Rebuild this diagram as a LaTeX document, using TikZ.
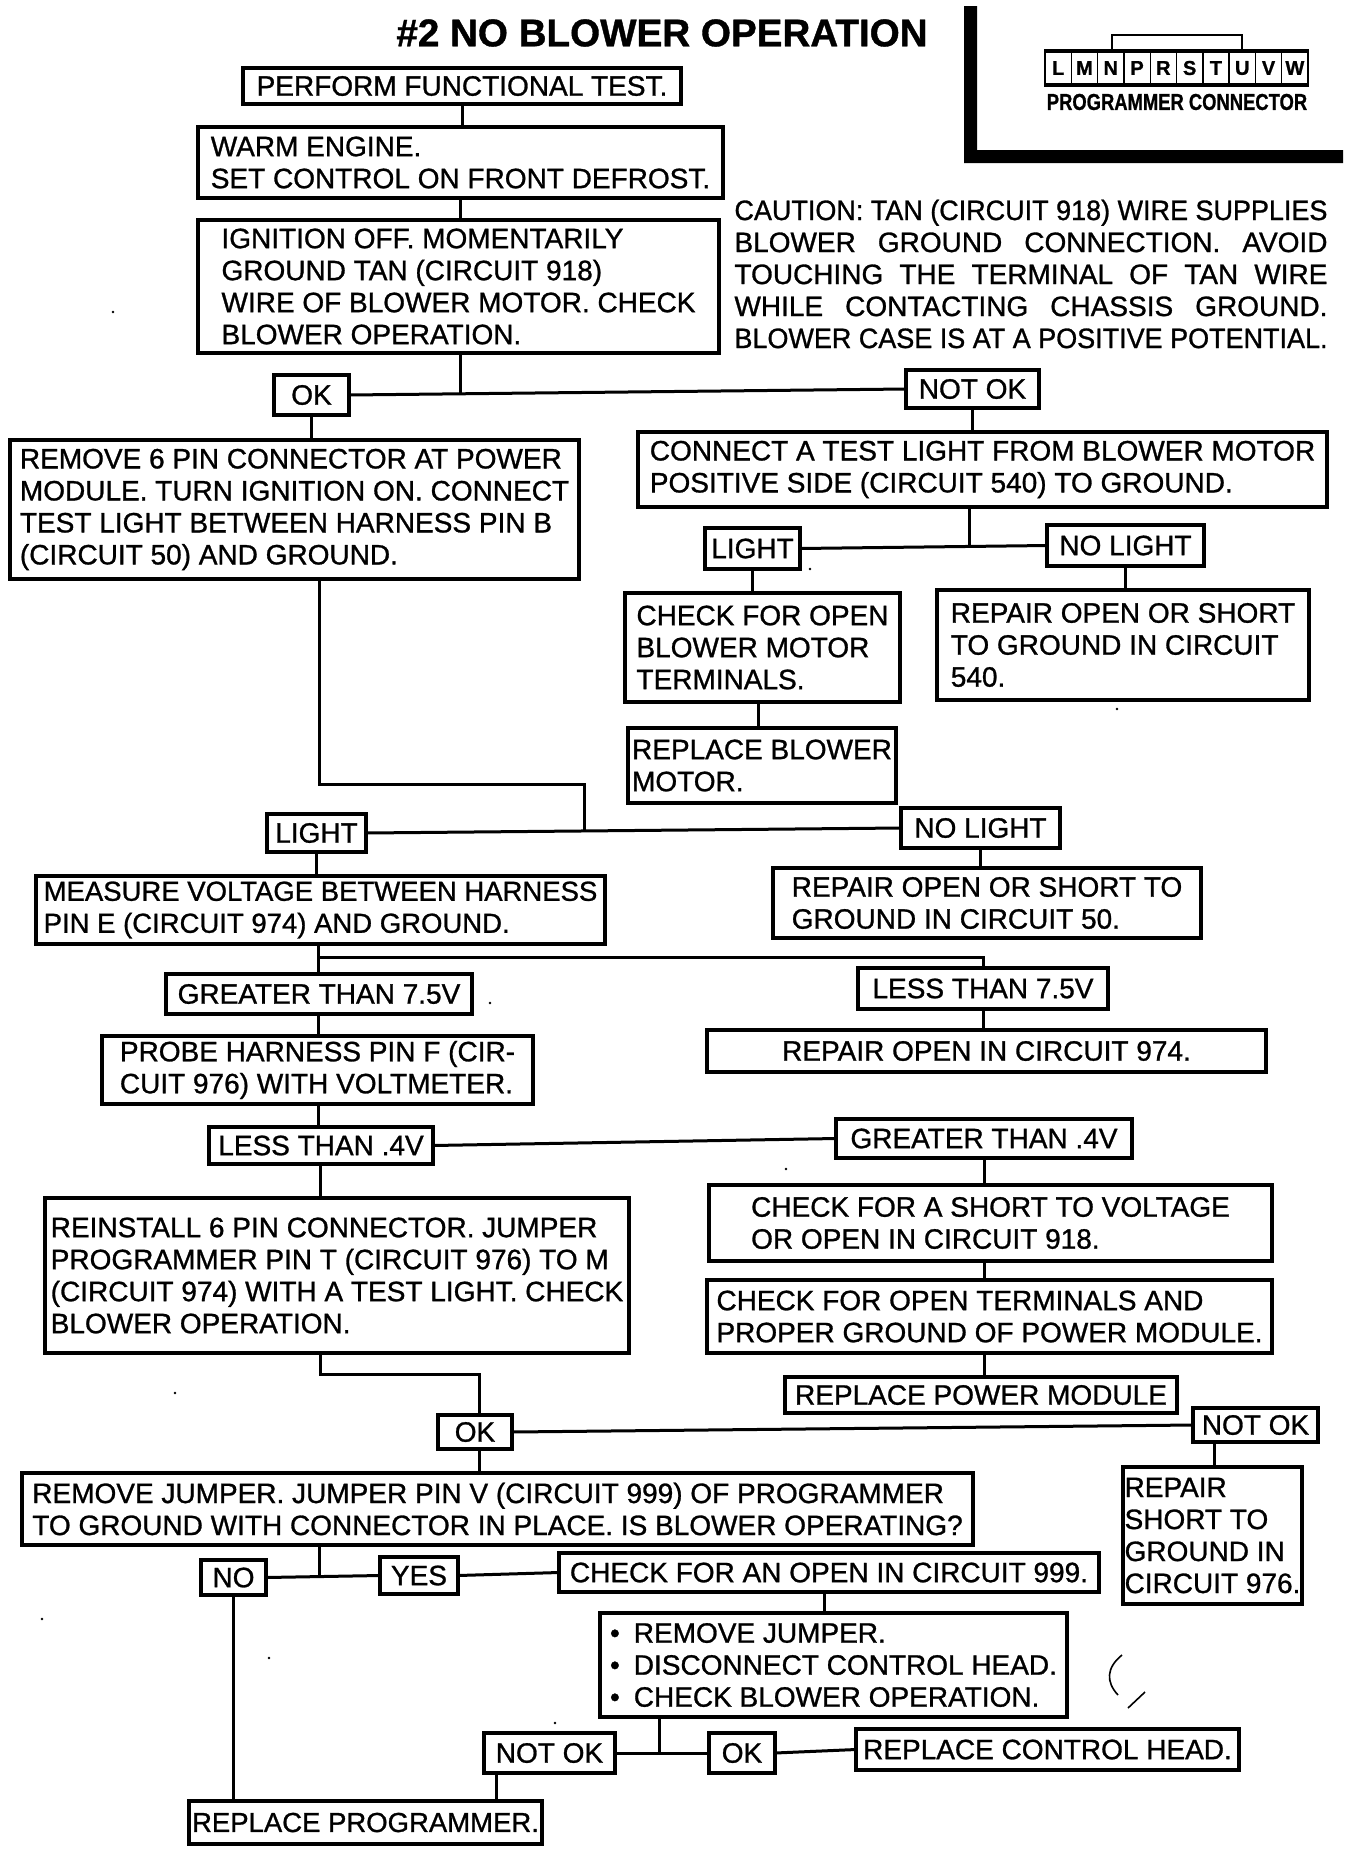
\documentclass[tikz,border=0pt]{standalone}
\usepackage{fontspec}
\setmainfont{Liberation Sans}[FakeBold=1]
\usetikzlibrary{calc}
\tikzset{
	flowbox/.style={draw,line width=3.2pt,outer sep=0pt,anchor=north west,inner sep=0pt,align=left,font=\fontsize{28}{32}\selectfont},
	snug/.style={font=\fontsize{27.5}{32}\selectfont},
	dims/.style 2 args={minimum width=#1pt,minimum height=#2pt},
	link/.style={line width=3pt},
	pinbox/.style={draw,line width=1.4pt,inner sep=0pt,minimum width=26.3pt,minimum height=32pt,font=\bfseries\fontsize{20}{20}\selectfont}
}
\newcommand{\spread}[1]{\makebox[593pt][s]{#1}}
\newcommand{\squeeze}[1]{\resizebox{593pt}{\height}{#1}}
\begin{document}
\begin{tikzpicture}[x=1pt,y=-1pt]
	\useasboundingbox (0,0) rectangle (1360,1858);
	\node[font=\bfseries\fontsize{38.6}{40}\selectfont] (title) at (662,33) {\#2 NO BLOWER OPERATION};
	\fill (964,6) -- (977,6) -- (977,150) -- (1343,150) -- (1343,163) -- (964,163) -- cycle;
	\node[draw,line width=2pt,outer sep=0pt,inner sep=0pt,minimum width=263pt,minimum height=36pt] (plug) at (1176.5,68) {};
	\node[draw,line width=2pt,outer sep=0pt,inner sep=0pt,minimum width=130pt,minimum height=15pt,anchor=south] (tab) at (plug.north) {};
	\foreach \pin [count=\i] in {L,M,N,P,R,S,T,U,V,W}
		\node[pinbox] (pin\i) at (1045+\i*26.3-13.15,68) {\pin};
	\node[font=\bfseries\fontsize{20}{20}\selectfont] (plugname) at (1177,102) {\scalebox{0.92}[1.15]{PROGRAMMER CONNECTOR}};
	\node[align=left,font=\fontsize{28}{32}\selectfont,inner sep=0pt] (caution) at (1031,274) {\squeeze{CAUTION: TAN (CIRCUIT 918) WIRE SUPPLIES}\\\spread{BLOWER GROUND CONNECTION. AVOID}\\\spread{TOUCHING THE TERMINAL OF TAN WIRE}\\\spread{WHILE CONTACTING CHASSIS GROUND.}\\\squeeze{BLOWER CASE IS AT A POSITIVE POTENTIAL.}};

	\node[flowbox,dims={438}{36}] (perform) at (243,68) {PERFORM FUNCTIONAL TEST.};
	\node[flowbox,dims={525}{71}] (warm) at (198,127) {WARM ENGINE.\\SET CONTROL ON FRONT DEFROST.};
	\node[flowbox,dims={521}{133}] (ignition) at (198,220) {IGNITION OFF. MOMENTARILY\\GROUND TAN (CIRCUIT 918)\\WIRE OF BLOWER MOTOR. CHECK\\BLOWER OPERATION.};
	\node[flowbox,dims={75}{40}] (okA) at (274,375) {OK};
	\node[flowbox,dims={133}{38}] (notokA) at (906,370) {NOT OK};
	\node[flowbox,dims={569}{139}] (removesix) at (10,440) {REMOVE 6 PIN CONNECTOR AT POWER\\MODULE. TURN IGNITION ON. CONNECT\\TEST LIGHT BETWEEN HARNESS PIN B\\(CIRCUIT 50) AND GROUND.};
	\node[flowbox,dims={689}{75}] (connect) at (638,432) {CONNECT A TEST LIGHT FROM BLOWER MOTOR\\POSITIVE SIDE (CIRCUIT 540) TO GROUND.};
	\node[flowbox,dims={95}{41}] (lightA) at (705,528) {LIGHT};
	\node[flowbox,dims={157}{41}] (nolightA) at (1047,525) {NO LIGHT};
	\node[flowbox,dims={275}{109}] (checkopen) at (625,593) {CHECK FOR OPEN\\BLOWER MOTOR\\TERMINALS.};
	\node[flowbox,dims={372}{110}] (repairopen) at (937,590) {REPAIR OPEN OR SHORT\\TO GROUND IN CIRCUIT\\540.};
	\node[flowbox,dims={268}{75}] (replaceblower) at (628,728) {REPLACE BLOWER\\MOTOR.};
	\node[flowbox,dims={99}{38}] (lightB) at (267,814) {LIGHT};
	\node[flowbox,dims={159}{40}] (nolightB) at (901,808) {NO LIGHT};
	\node[flowbox,snug,dims={569}{68}] (measure) at (36,876) {MEASURE VOLTAGE BETWEEN HARNESS\\PIN E (CIRCUIT 974) AND GROUND.};
	\node[flowbox,dims={428}{70}] (repairfifty) at (773,868) {REPAIR OPEN OR SHORT TO\\GROUND IN CIRCUIT 50.};
	\node[flowbox,dims={306}{40}] (greater) at (166,974) {GREATER THAN 7.5V};
	\node[flowbox,dims={250}{41}] (less) at (858,968) {LESS THAN 7.5V};
	\node[flowbox,dims={431}{68}] (probe) at (102,1036) {PROBE HARNESS PIN F (CIR-\\CUIT 976) WITH VOLTMETER.};
	\node[flowbox,dims={559}{42}] (repairnine) at (707,1030) {REPAIR OPEN IN CIRCUIT 974.};
	\node[flowbox,dims={224}{37}] (lesspt) at (209,1127) {LESS THAN .4V};
	\node[flowbox,dims={296}{39}] (greaterpt) at (836,1119) {GREATER THAN .4V};
	\node[flowbox,dims={584}{155}] (reinstall) at (45,1198) {REINSTALL 6 PIN CONNECTOR. JUMPER\\PROGRAMMER PIN T (CIRCUIT 976) TO M\\(CIRCUIT 974) WITH A TEST LIGHT. CHECK\\BLOWER OPERATION.};
	\node[flowbox,dims={563}{76}] (checkshort) at (709,1185) {CHECK FOR A SHORT TO VOLTAGE\\OR OPEN IN CIRCUIT 918.};
	\node[flowbox,dims={565}{73}] (checkterm) at (707,1280) {CHECK FOR OPEN TERMINALS AND\\PROPER GROUND OF POWER MODULE.};
	\node[flowbox,dims={392}{36}] (replacemodule) at (785,1377) {REPLACE POWER MODULE};
	\node[flowbox,dims={74}{34}] (okB) at (438,1415) {OK};
	\node[flowbox,dims={125}{34}] (notokB) at (1193,1408) {NOT OK};
	\node[flowbox,dims={951}{72}] (removejumper) at (22,1473) {REMOVE JUMPER. JUMPER PIN V (CIRCUIT 999) OF PROGRAMMER\\TO GROUND WITH CONNECTOR IN PLACE. IS BLOWER OPERATING?};
	\node[flowbox,dims={179}{137}] (repairshort) at (1123,1467) {REPAIR\\SHORT TO\\GROUND IN\\CIRCUIT 976.};
	\node[flowbox,dims={65}{35}] (no) at (201,1560) {NO};
	\node[flowbox,dims={78}{37}] (yes) at (380,1557) {YES};
	\node[flowbox,dims={540}{39}] (checkopennine) at (559,1553) {CHECK FOR AN OPEN IN CIRCUIT 999.};
	\node[flowbox,dims={467}{104}] (bullets) at (600,1613) {\textbullet\hspace{14pt}REMOVE JUMPER.\\\textbullet\hspace{14pt}DISCONNECT CONTROL HEAD.\\\textbullet\hspace{14pt}CHECK BLOWER OPERATION.};
	\node[flowbox,dims={131}{40}] (notokC) at (484,1733) {NOT OK};
	\node[flowbox,dims={66}{40}] (okC) at (709,1733) {OK};
	\node[flowbox,dims={383}{41}] (replacehead) at (856,1729) {REPLACE CONTROL HEAD.};
	\node[flowbox,snug,dims={353}{43}] (replaceprog) at (189,1801) {REPLACE PROGRAMMER.};

	\coordinate (ja) at (460,393);
	\coordinate (jb) at (969,546);
	\coordinate (kc) at (319,784);
	\coordinate (jc) at (584,830);
	\coordinate (jd) at (318,957);
	\coordinate (ke) at (320,1374);
	\coordinate (kf) at (479,1374);
	\coordinate (kg) at (1214,1440);
	\coordinate (jh) at (319,1578);
	\coordinate (ki) at (824,1600);
	\coordinate (jj) at (659,1753);
	\coordinate (kk) at (496,1790);
	\coordinate (kl) at (758,715);

	\draw[link] (perform.south) -- (perform.south |- warm.north);
	\draw[link] (warm.south) -- (warm.south |- ignition.north);
	\draw[link] (ja |- ignition.south) -- (ja);
	\draw[link] (okA.east) -- (notokA.west);
	\draw[link] (okA.south) -- (okA.south |- removesix.north);
	\draw[link] (notokA.south) -- (notokA.south |- connect.north);
	\draw[link] (jb |- connect.south) -- (jb);
	\draw[link] (lightA.east) -- (nolightA.west);
	\draw[link] (lightA.south) -- (lightA.south |- checkopen.north);
	\draw[link] (nolightA.south) -- (nolightA.south |- repairopen.north);
	\draw[link] (kl |- checkopen.south) -- (kl |- replaceblower.north);
	\draw[link] (kc |- removesix.south) -- (kc) -| (jc);
	\draw[link] (lightB.east) -- (nolightB.west);
	\draw[link] (lightB.south) -- (lightB.south |- measure.north);
	\draw[link] (nolightB.south) -- (nolightB.south |- repairfifty.north);
	\draw[link] (jd |- measure.south) -- (jd |- greater.north);
	\draw[link] (jd) -| (less.north);
	\draw[link] (less.south) -- (less.south |- repairnine.north);
	\draw[link] (jd |- greater.south) -- (jd |- probe.north);
	\draw[link] (jd |- probe.south) -- (jd |- lesspt.north);
	\draw[link] (lesspt.east) -- (greaterpt.west);
	\draw[link] (ke |- lesspt.south) -- (ke |- reinstall.north);
	\draw[link] (greaterpt.south) -- (greaterpt.south |- checkshort.north);
	\draw[link] (greaterpt.south |- checkshort.south) -- (greaterpt.south |- checkterm.north);
	\draw[link] (greaterpt.south |- checkterm.south) -- (greaterpt.south |- replacemodule.north);
	\draw[link] (ke |- reinstall.south) -- (ke) -- (kf) -- (kf |- okB.north);
	\draw[link] (kf |- okB.south) -- (kf |- removejumper.north);
	\draw[link] (okB.east) -- (notokB.west);
	\draw[link] (kg |- notokB.south) -- (kg |- repairshort.north);
	\draw[link] (jh |- removejumper.south) -- (jh);
	\draw[link] (no.east) -- (yes.west);
	\draw[link] (yes.east) -- (checkopennine.west);
	\draw[link] (ki |- checkopennine.south) -- (ki |- bullets.north);
	\draw[link] (jj |- bullets.south) -- (jj);
	\draw[link] (notokC.east) -- (okC.west);
	\draw[link] (okC.east) -- (replacehead.west);
	\draw[link] (kk |- notokC.south) -- (kk |- replaceprog.north);
	\draw[link] (no.south) -- (no.south |- replaceprog.north);

	\draw[line width=1.6pt] (1122,1655) .. controls (1106,1668) and (1106,1682) .. (1118,1695);
	\draw[line width=1.6pt] (1145,1692) -- (1128,1708);
	\foreach \sx/\sy in {113/312,810/569,1117/709,490/1003,175/1393,786/1169,42/1619,269/1658,555/1723}
		\fill (\sx,\sy) circle (1.3pt);
\end{tikzpicture}
\end{document}
